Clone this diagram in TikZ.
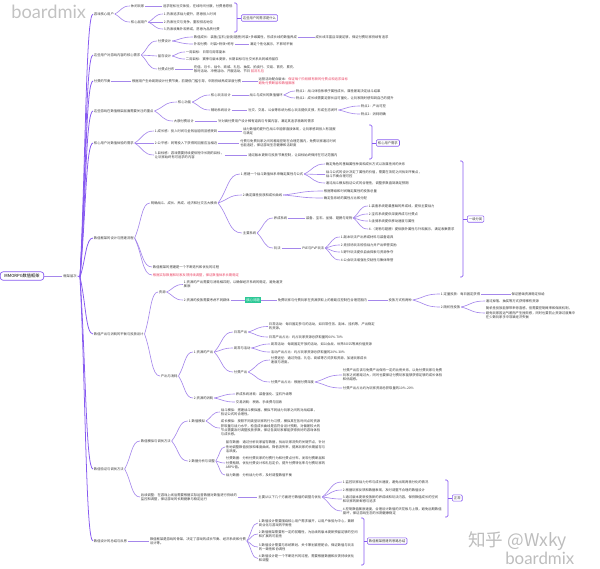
\documentclass[tikz,border=0pt]{standalone}
\usepackage{fontspec}
\setmainfont{Noto Sans CJK SC}
\newfontfamily\bmfont{Lato}
\usetikzlibrary{positioning,calc}

\definecolor{mmline}{RGB}{165,135,235}
\definecolor{mmtrunk}{RGB}{135,90,240}
\definecolor{mmred}{RGB}{232,64,96}
\definecolor{mmgreen}{RGB}{45,200,150}

\tikzset{
  txt/.style={font=\fontsize{2.35}{3.1}\selectfont, text=black!78, inner sep=0.5pt, align=left, anchor=west},
  redtxt/.style={txt, text=mmred},
  tagbox/.style={txt, draw=mmtrunk, rounded corners=0.8pt, line width=0.4pt, inner sep=1.2pt},
  hlbox/.style={txt, fill=mmgreen, text=white, inner sep=1pt},
  rootbox/.style={draw=mmtrunk, rounded corners=2pt, line width=0.5pt, font=\fontsize{3}{3.6}\selectfont, inner xsep=3pt, inner ysep=1.6pt},
  link/.style={draw=mmline, line width=0.45pt},
  trunk/.style={draw=mmtrunk, line width=0.55pt},
  bracket/.style={draw=mmtrunk, line width=0.45pt, rounded corners=1pt},
  fan/.style={to path={.. controls ($(\tikztostart)!0.45!(\tikztotarget)$) and ($(\tikztotarget)!0.55!(\tikztostart|-\tikztotarget)$) .. (\tikztotarget) \tikztonodes}},
}

\begin{document}
\begin{tikzpicture}[x=0.025cm, y=-0.025cm]
  \useasboundingbox (0,0) rectangle (600,568);

  % watermarks
  \node[anchor=west, font=\bmfont\fontsize{13}{13}\selectfont, text=black!24, inner sep=0pt] (wm1) at (11,12) {boardmix};
  \node[anchor=west, font=\fontsize{12.5}{13}\selectfont, text=black!26, inner sep=0pt] (wm2) at (468,541) {知乎 @Wxky};
  \node[anchor=west, font=\bmfont\fontsize{12}{12}\selectfont, text=black!26, inner sep=0pt] (wm3) at (505,558) {boardmix};

  % root
  \node[rootbox] (root) at (22,276) {MMORPG数值框架};
  \node[txt, right=13pt of root] (l0) {框架层次};
  \coordinate (fork) at (80,277);
  \draw[link] (root.east) -- (l0.west);
  \draw[trunk] (l0.east) -- (fork);

  % level 1
  \node[txt] (a) at (93,14) {游戏核心用户};
  \node[txt] (b) at (93,55) {这些用户对游戏内容的核心需求};
  \node[txt] (c) at (93,81) {付费的节奏};
  \node[txt] (d) at (93,111) {这些游戏在数值框架层面需要关注的重点};
  \node[txt] (e) at (93,143) {核心用户对数值体验的需求};
  \node[txt] (f) at (93,238) {数值框架的设计与搭建流程};
  \node[txt] (g) at (93,334) {数值产出与消耗的平衡与投放设计};
  \node[txt] (h) at (93,469) {数值验证与调优方法};
  \node[txt] (i) at (93,541) {数值设计的总结与反思};
  \foreach \n in {a,b,c,d,e,f,g,h,i}
    \draw[trunk] (fork) to[fan] (\n.west);

  % a
  \node[txt] (a1) at (130,6) {休闲玩家};
  \node[txt, right=12pt of a1] (a1t) {追求轻松社交体验，在线时间分散，付费意愿低};
  \node[txt] (a2) at (130,22) {核心层用户};
  \node[txt] (a21) at (163,14) {1.热衷追求战力提升，愿意投入时间};
  \node[txt] (a22) at (163,22) {2.热衷社交与竞争，重视排名地位};
  \node[txt] (a23) at (163,29) {3.热衷收集外观养成，愿意为品质付费};
  \draw[link] (a1.east) -- (a1t.west);
  \foreach \n in {a1,a2} \draw[link] (a.east) to[fan] (\n.west);
  \foreach \n in {a21,a22,a23} \draw[link] (a2.east) to[fan] (\n.west);
  \draw[bracket] (234,3) -- (237,3) -- (237,32) -- (234,32);
  \coordinate (ka) at (237,18);
  \node[tagbox] (boxa) at (241,18) {这些用户的需求是什么};
  \draw[bracket] (ka) -- (boxa.west);

  % b
  \node[txt] (b1) at (157,41) {付费设计};
  \node[txt] (b1a) at (193,37) {数值成长：装备/宝石/坐骑/翅膀/时装+多维属性，形成长线的数值养成};
  \node[txt, right=12pt of b1a] (b1b) {成长线丰富且深度足够，保证付费玩家持续有追求};
  \node[txt] (b1c) at (193,44) {外观付费：时装+特效+称号};
  \node[txt, right=10pt of b1c] (b1d) {满足个性化展示，不影响平衡};
  \node[txt] (b2) at (157,56) {留存设计};
  \node[txt] (b21) at (185,52) {一周目标：日常与周常副本};
  \node[txt] (b22) at (185,59) {二周目标：赛季与版本更新，长期目标与社交关系共同维持留存};
  \node[txt] (b3) at (157,69) {付费点分布};
  \node[txt] (b31) at (193,69) {充值、月卡、战令、商城、礼包、抽奖、拍卖行、交易、首充、累充、\\限时活动、冲榜活动、开服活动、节日 \textcolor{mmred}{回流礼包}};
  \foreach \n in {b1,b2,b3} \draw[link] (b.east) to[fan] (\n.west);
  \foreach \n in {b1a,b1c} \draw[link] (b1.east) to[fan] (\n.west);
  \foreach \n in {b21,b22} \draw[link] (b2.east) to[fan] (\n.west);
  \draw[link] (b3.east) -- (b31.west);
  \draw[link] (b1a.east) -- (b1b.west);
  \draw[link] (b1c.east) -- (b1d.west);

  % c
  \node[txt, right=14pt of c] (c1) {根据用户生命周期设计付费节奏，前期低门槛引导，中期持续养成深度付费};
  \node[txt, right=11pt of c1] (c2) {运营活动配合版本：\textcolor{mmred}{保证每个阶段都有新的付费点和追求目标}\\\textcolor{mmred}{避免付费断层和数值膨胀}};
  \draw[link] (c.east) -- (c1.west);
  \draw[link] (c1.east) -- (c2.west);

  % d
  \node[txt] (d1) at (177,102) {核心功能};
  \node[txt] (d1a) at (210,95) {核心玩法设计};
  \node[txt, right=12pt of d1a] (d1at) {战斗与成长的数值循环};
  \node[txt] (d1a1) at (295,91) {特点1：战斗体验依赖于属性成长，属性差距决定战斗结果};
  \node[txt] (d1a2) at (295,98) {特点2：成长线需要足够长且可量化，让玩家随时感知到自己的提升};
  \node[txt] (d1b) at (210,110) {辅助系统设计};
  \node[txt, right=11pt of d1b] (d1bt) {社交、交易、公会等系统为核心玩法提供支撑，形成生态闭环};
  \node[txt] (d1b1) at (360,106) {特点1：产出可控};
  \node[txt] (d1b2) at (360,114) {特点2：消耗明确};
  \node[txt] (d2) at (173,121) {大额付费设计};
  \node[txt, right=16pt of d2] (d2t) {针对高付费用户设计稀有道具与专属内容，满足其追求极致的需求};
  \foreach \n in {d1,d2} \draw[link] (d.east) to[fan] (\n.west);
  \foreach \n in {d1a,d1b} \draw[link] (d1.east) to[fan] (\n.west);
  \foreach \n in {d1a1,d1a2} \draw[link] (d1at.east) to[fan] (\n.west);
  \foreach \n in {d1b1,d1b2} \draw[link] (d1bt.east) to[fan] (\n.west);
  \draw[link] (d1a.east) -- (d1at.west);
  \draw[link] (d1b.east) -- (d1bt.west);
  \draw[link] (d2.east) -- (d2t.west);

  % e
  \node[txt] (e1) at (154,131) {1.成长感：投入时间与金钱后能明显感受到};
  \node[txt, right=17pt of e1] (e1t) {战力数值的提升在战斗中能够直接体现，让玩家感到投入有回报\\与满足};
  \node[txt] (e2) at (154,143) {2.公平感：同等投入下获得的回报应当相近};
  \node[txt, right=15pt of e2] (e2t) {付费与免费玩家之间的差距控制在合理范围内，免费玩家通过时间\\也能追赶，保证游戏生态健康和活跃度};
  \node[txt] (e3) at (154,155) {3.目标感：游戏需要持续提供短中长期的目标，\\让玩家始终有可追求的内容};
  \node[txt, right=16pt of e3] (e3t) {通过版本更新与投放节奏控制，让目标始终保持在可达范围内};
  \foreach \n in {e1,e2,e3} \draw[link] (e.east) to[fan] (\n.west);
  \draw[link] (e1.east) -- (e1t.west);
  \draw[link] (e2.east) -- (e2t.west);
  \draw[link] (e3.east) -- (e3t.west);
  \draw[bracket] (369,125) -- (372,125) -- (372,159) -- (369,159);
  \coordinate (ke) at (372,143);
  \node[tagbox] (boxe) at (376,143) {核心用户需求};
  \draw[bracket] (ke) -- (boxe.west);

  % f
  \node[txt] (f1) at (150,203) {明确战斗、成长、养成、经济和社交五大模块};
  \node[txt] (f11) at (240,174) {1.搭建一个战斗数值体系来确定属性与公式};
  \node[txt] (f111) at (325,164) {确定角色的基础属性种类和成长方式以及属性间的关系};
  \node[txt] (f112) at (325,174.5) {战斗公式的设计决定了属性的价值，需要在攻防之间找到平衡点，\\战斗节奏合理可控};
  \node[txt] (f113) at (325,183) {通过战斗模拟验证公式的合理性，调整参数直到满足预期};
  \node[txt] (f12) at (242,195) {2.确定属性投放和成长曲线};
  \node[txt] (f121) at (323,191) {根据等级和时间确定属性的投放总量};
  \node[txt] (f122) at (323,198) {确定各系统的属性占比和分配};
  \node[txt] (f13) at (242,233) {主要系统};
  \node[txt] (f131) at (273,218) {养成系统};
  \node[txt, right=12pt of f131] (f131t) {装备、宝石、坐骑、翅膀与宠物};
  \node[txt] (f131a) at (368,206) {1.装备系统是最基础的养成线，提供主要战力};
  \node[txt] (f131b) at (368,214) {2.宝石系统提供深度养成与付费点};
  \node[txt] (f131c) at (368,221) {3.坐骑系统提供移动速度与属性};
  \node[txt] (f131d) at (368,229) {4.（宠物与翅膀）提供额外属性与外观展示，满足收集需求};
  \node[txt] (f132) at (273,248) {玩法};
  \node[txt, right=14pt of f132] (f132t) {PVE与PVP玩法};
  \node[txt] (f132a) at (340,237) {1.副本玩法产出养成材料与装备道具};
  \node[txt] (f132b) at (340,245) {2.竞技场玩法检验战力并产出荣誉奖励};
  \node[txt] (f132c) at (340,252) {3.野外玩法提供自由探索与资源争夺};
  \node[txt] (f132d) at (340,260) {4.公会玩法增强社交粘性与集体荣誉};
  \node[txt] (f2) at (152,267) {数值框架的搭建是一个不断迭代和优化的过程};
  \node[redtxt] (f3) at (152,275) {根据实际数据和玩家反馈持续调整，保证数值体系长期稳定};
  \foreach \n in {f1,f2,f3} \draw[link] (f.east) to[fan] (\n.west);
  \foreach \n in {f11,f12,f13} \draw[link] (f1.east) to[fan] (\n.west);
  \foreach \n in {f111,f112,f113} \draw[link] (f11.east) to[fan] (\n.west);
  \foreach \n in {f121,f122} \draw[link] (f12.east) to[fan] (\n.west);
  \foreach \n in {f131,f132} \draw[link] (f13.east) to[fan] (\n.west);
  \foreach \n in {f131a,f131b,f131c,f131d} \draw[link] (f131t.east) to[fan] (\n.west);
  \foreach \n in {f132a,f132b,f132c,f132d} \draw[link] (f132t.east) to[fan] (\n.west);
  \draw[link] (f131.east) -- (f131t.west);
  \draw[link] (f132.east) -- (f132t.west);
  \draw[bracket] (460,161) -- (463,161) -- (463,277) -- (460,277);
  \coordinate (kf) at (463,219);
  \node[tagbox] (boxf) at (467,219) {一级分类};
  \draw[bracket] (kf) -- (boxf.west);

  % g
  \node[txt] (g1) at (158,292) {资源};
  \node[txt] (g11) at (183,284.5) {1.资源的产出需要与消耗相匹配，以确保经济系统的稳定，避免通货\\膨胀};
  \node[txt] (g12) at (183,300) {2.资源的投放需要考虑不同群体};
  \node[hlbox, right=10pt of g12] (gk) {核心问题};
  \node[txt, right=11pt of gk] (g12t) {免费玩家与付费玩家在资源获取上的差距应控制在合理范围内};
  \node[txt, right=14pt of g12t] (g12u) {投放方式有两种};
  \node[txt] (g121) at (440,294) {1.定量投放：每日固定获得};
  \node[txt, right=21pt of g121] (g121t) {保证基础资源稳定供给};
  \node[txt] (g122) at (440,307) {2.随机性投放};
  \node[txt] (g1221) at (485,301) {通过掉落、抽奖等方式获得稀有资源};
  \node[txt] (g1222) at (485,313) {随机性投放能够带来惊喜感，但需要控制概率和保底机制，\\避免玩家因运气差而产生挫败感，同时也要防止资源过度集中\\在少数玩家手中导致经济失衡};
  \node[txt] (g2) at (160,376) {产出与消耗};
  \node[txt] (g21) at (193,352) {1.资源的产出};
  \node[txt] (g211) at (233,332) {日常产出};
  \node[txt] (g2111) at (268,326.5) {日常活动：每日固定参与的活动，如日常任务、副本、挂机等，产出稳定\\的资源。};
  \node[txt] (g2112) at (268,337) {日常产出占比：约占玩家资源总获取量的60\%-70\%};
  \node[txt] (g212) at (233,348) {周常与活动};
  \node[txt] (g2121) at (270,344) {周常活动：每周固定开放的活动，如公会战、世界BOSS等高价值资源};
  \node[txt] (g2122) at (270,352) {活动产出占比：约占玩家资源总获取量的20\%-30\%};
  \node[txt] (g213) at (233,372) {付费产出};
  \node[txt] (g2131) at (270,360) {付费途径：通过充值、礼包、商城等方式获取资源，加速玩家成长\\速度与进度。};
  \node[txt] (g2132) at (270,382) {付费产出占比：根据付费深度};
  \node[txt] (g21321) at (342,375) {付费产出应该与免费产出保持一定的比例关系，以免付费玩家与免费\\玩家之间差距过大，同时也要保证付费玩家能够获得足够的成长体验\\和优越感。};
  \node[txt] (g21322) at (342,388) {付费产出占比约为玩家资源总获取量的10\%-20\%};
  \node[txt] (g22) at (193,398) {2.资源的消耗};
  \node[txt] (g221) at (235,394) {养成系统消耗：装备强化、宝石升级等};
  \node[txt] (g222) at (235,402) {交易消耗：税收、手续费与回收};
  \foreach \n in {g1,g2} \draw[link] (g.east) to[fan] (\n.west);
  \foreach \n in {g11,g12} \draw[link] (g1.east) to[fan] (\n.west);
  \draw[link] (g12.east) -- (gk.west);
  \draw[link] (gk.east) -- (g12t.west);
  \draw[link] (g12t.east) -- (g12u.west);
  \foreach \n in {g121,g122} \draw[link] (g12u.east) to[fan] (\n.west);
  \draw[link] (g121.east) -- (g121t.west);
  \foreach \n in {g1221,g1222} \draw[link] (g122.east) to[fan] (\n.west);
  \foreach \n in {g21,g22} \draw[link] (g2.east) to[fan] (\n.west);
  \foreach \n in {g211,g212,g213} \draw[link] (g21.east) to[fan] (\n.west);
  \foreach \n in {g2111,g2112} \draw[link] (g211.east) to[fan] (\n.west);
  \foreach \n in {g2121,g2122} \draw[link] (g212.east) to[fan] (\n.west);
  \foreach \n in {g2131,g2132} \draw[link] (g213.east) to[fan] (\n.west);
  \foreach \n in {g21321,g21322} \draw[link] (g2132.east) to[fan] (\n.west);
  \foreach \n in {g221,g222} \draw[link] (g22.east) to[fan] (\n.west);

  % h
  \node[txt] (h1) at (140,441) {数值模拟与调优方法};
  \node[txt] (h11) at (188,421) {1.数值模拟};
  \node[txt] (h111) at (220,412) {战斗模拟：搭建战斗模拟器，模拟不同战力玩家之间的对战结果，\\验证公式的合理性。};
  \node[txt] (h112) at (220,428) {成长模拟：按照不同类型玩家的行为习惯，模拟其在各时间点的资源\\获取量与战力水平，检查成长曲线是否符合设计预期，对偏差较大的\\节点需要及时调整投放参数，保证各类玩家都能获得良好的游戏体验\\与成长感。};
  \node[txt] (h12) at (188,461) {2.数据分析与调整};
  \node[txt] (h121) at (225,447) {留存数据：通过分析玩家留存数据，找出玩家流失的关键节点，针对\\性地调整数值投放和难度曲线，降低流失率，提高玩家的长期留存与\\活跃度。};
  \node[txt] (h122) at (225,463) {付费数据：分析付费玩家的付费行为和付费点分布，发现付费断层和\\付费瓶颈，优化付费设计和礼包定价，提升付费转化率与付费玩家的\\ARPU值。};
  \node[txt] (h123) at (225,475) {战力数据：分析战力分布，及时调整数值平衡};
  \node[txt] (h2) at (140,497) {后续调整：在游戏上线后需要根据实际运营数据对数值进行持续的\\监控和调整，保证游戏的长期健康与稳定运行};
  \node[txt, right=14pt of h2] (h2t) {主要从以下几个方面进行数值的调整与优化};
  \node[txt] (h21) at (342,482) {1.监控玩家战力分布与成长速度，避免出现两极分化的情况};
  \node[txt] (h22) at (342,490) {2.根据玩家反馈和数据表现，及时调整不合理的数值设计};
  \node[txt] (h23) at (342,499) {3.通过版本更新投放新的养成线和玩法内容，保持数值成长的空间\\和玩家的新鲜感与追求};
  \node[txt] (h24) at (342,511) {4.控制数值膨胀速度，合理设计数值的天花板与上限，避免后期数值\\崩坏，保证游戏生态的长期健康稳定};
  \foreach \n in {h1,h2} \draw[link] (h.east) to[fan] (\n.west);
  \foreach \n in {h11,h12} \draw[link] (h1.east) to[fan] (\n.west);
  \foreach \n in {h111,h112} \draw[link] (h11.east) to[fan] (\n.west);
  \foreach \n in {h121,h122,h123} \draw[link] (h12.east) to[fan] (\n.west);
  \draw[link] (h2.east) -- (h2t.west);
  \foreach \n in {h21,h22,h23,h24} \draw[link] (h2t.east) to[fan] (\n.west);
  \draw[bracket] (445,480) -- (448,480) -- (448,517) -- (445,517);
  \coordinate (kh) at (448,498);
  \node[tagbox] (boxh) at (452,498) {正常};
  \draw[bracket] (kh) -- (boxh.west);

  % i
  \node[txt, right=15pt of i] (i1) {数值框架是游戏的骨架，决定了游戏的成长节奏、经济系统和付费\\设计等。};
  \node[txt] (i11) at (258,523) {1.数值设计需要围绕核心用户需求展开，以用户体验为中心，兼顾\\商业化与游戏的平衡性};
  \node[txt] (i12) at (258,534) {2.数值框架需要有一定的前瞻性，为后续的版本更新预留足够的空间\\和扩展的可能性};
  \node[txt] (i13) at (258,547) {3.数值设计需要与系统策划、关卡策划紧密配合，保证数值与玩法\\的一致性和协调性};
  \node[txt] (i14) at (258,558.5) {4.数值设计是一个不断迭代的过程，需要根据数据和反馈持续优化\\和调整};
  \draw[link] (i.east) -- (i1.west);
  \foreach \n in {i11,i12,i13,i14} \draw[link] (i1.east) to[fan] (\n.west);
  \draw[bracket] (361,518) -- (364,518) -- (364,565) -- (361,565);
  \coordinate (ki) at (364,541);
  \node[tagbox] (boxi) at (367,541) {数值框架搭建的思路总结};
  \draw[bracket] (ki) -- (boxi.west);
\end{tikzpicture}
\end{document}
